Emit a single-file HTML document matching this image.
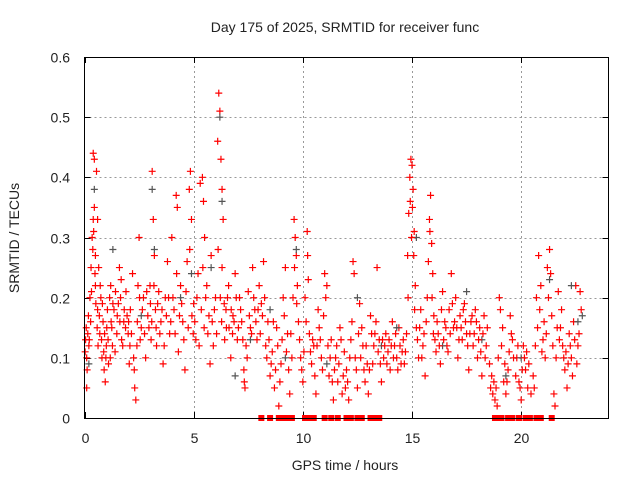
<!DOCTYPE html>
<html><head><meta charset="utf-8"><style>
body{margin:0;background:#fff}
svg text{font-family:"Liberation Sans",sans-serif;font-size:14px;fill:#222}
</style></head><body>
<svg id="chart" width="640" height="480" xmlns="http://www.w3.org/2000/svg">
<rect width="640" height="480" fill="#fff"/>
<text x="345" y="32" text-anchor="middle">Day 175 of 2025, SRMTID for receiver func</text>
<text x="345" y="470" text-anchor="middle">GPS time / hours</text>
<text transform="translate(19,238) rotate(-90)" text-anchor="middle">SRMTID / TECUs</text>
<g id="grid"></g><g id="ticks"></g><g id="marks"></g>
<rect x="84.5" y="57.5" width="524" height="361" fill="none" stroke="#000" stroke-width="1"/>
</svg>
<script>
const xTicks=[0,5,10,15,20];
const yTicks=[0,0.1,0.2,0.3,0.4,0.5,0.6];
const yTickLabels=["0","0.1","0.2","0.3","0.4","0.5","0.6"];
const redT=[0.05,0.1,0.1,0.15,0.2,0.25,0.3,0.35,0.4,0.4,0.45,0.45,0.5,0.5,0.55,0.6,0.6,0.65,0.7,0.75,
0.8,0.85,0.9,0.95,1.0,1.05,1.1,1.2,1.25,1.3,1.4,1.5,1.6,1.65,1.7,1.8,1.9,2.0,
2.05,2.1,2.2,2.3,2.35,2.4,2.45,2.5,2.6,2.7,2.8,2.9,3.0,3.05,
3.1,3.15,3.2,3.25,3.3,3.4,3.5,3.6,3.7,3.8,3.9,4.0,4.1,4.2,4.25,4.3,4.4,4.5,4.6,4.7,
4.8,4.85,4.9,5.0,5.1,5.2,5.3,5.4,5.45,5.5,5.6,5.7,5.8,5.9,6.0,
6.1,6.15,6.2,6.25,6.3,6.35,6.3,6.4,6.5,6.6,6.7,6.8,6.9,7.0,
7.1,7.2,7.3,7.35,7.4,7.5,7.6,7.7,7.8,7.9,8.0,8.1,8.2,
8.3,8.4,8.5,8.6,8.7,8.8,8.9,9.0,9.1,9.2,9.3,9.4,9.5,
9.6,9.65,9.7,9.75,9.8,9.9,10.0,10.1,10.2,10.25,10.3,10.4,10.5,
10.6,10.7,10.8,10.9,11.0,11.1,11.2,11.3,11.4,11.5,11.6,11.7,11.8,11.9,12.0,
12.1,12.2,12.3,12.35,12.4,12.5,12.6,12.7,12.8,12.9,13.0,13.1,13.2,13.3,13.4,13.5,13.6,13.7,
13.8,13.9,14.0,14.1,14.2,14.3,14.4,14.5,14.6,14.7,14.8,14.85,
14.9,14.95,15.0,15.05,15.1,15.15,15.2,15.3,15.4,15.5,15.6,15.7,15.8,15.85,15.9,15.95,16.0,16.1,16.2,16.3,16.4,16.5,
16.6,16.7,16.8,16.9,17.0,17.1,17.2,17.3,17.4,17.5,17.6,17.7,17.8,17.9,18.0,18.1,18.2,18.3,18.4,
18.6,18.7,18.8,18.9,19.0,19.05,19.1,19.2,19.3,19.4,19.5,19.6,19.8,19.9,20.0,20.1,20.2,20.3,
20.6,20.7,20.8,20.9,21.0,21.1,21.2,21.3,21.35,21.4,21.5,21.55,21.6,21.7,21.8,21.9,22.0,22.1,22.2,22.3,22.4,22.5,22.6,22.7];
const redV=[0.13,0.05,0.1,0.14,0.12,0.2,0.25,0.3,0.33,0.44,0.43,0.35,0.27,0.22,0.41,0.33,0.18,0.25,0.14,0.2,
0.1,0.16,0.08,0.06,0.12,0.18,0.09,0.22,0.15,0.19,0.11,0.17,0.25,0.2,0.13,0.16,0.21,0.14,
0.09,0.18,0.24,0.05,0.03,0.12,0.22,0.3,0.15,0.2,0.1,0.17,0.22,0.13,
0.41,0.33,0.27,0.18,0.12,0.21,0.16,0.09,0.2,0.26,0.14,0.3,0.18,0.37,0.35,0.11,0.22,0.16,0.08,0.26,
0.38,0.41,0.33,0.19,0.13,0.24,0.39,0.4,0.36,0.3,0.22,0.17,0.27,0.12,0.2,
0.46,0.54,0.51,0.43,0.38,0.33,0.25,0.19,0.15,0.22,0.1,0.17,0.24,0.13,
0.2,0.16,0.08,0.05,0.12,0.21,0.15,0.25,0.18,0.13,0.22,0.19,0.26,
0.12,0.16,0.07,0.11,0.05,0.15,0.02,0.09,0.2,0.25,0.14,0.04,0.1,
0.33,0.3,0.27,0.22,0.16,0.1,0.06,0.2,0.31,0.23,0.14,0.09,0.12,
0.04,0.18,0.13,0.08,0.24,0.22,0.07,0.13,0.03,0.1,0.06,0.15,0.04,0.11,0.08,
0.03,0.13,0.26,0.24,0.1,0.05,0.19,0.15,0.08,0.12,0.04,0.17,0.09,0.14,0.25,0.13,0.06,0.1,
0.14,0.11,0.08,0.16,0.12,0.1,0.15,0.09,0.13,0.11,0.27,0.34,
0.4,0.43,0.42,0.38,0.31,0.22,0.15,0.1,0.18,0.12,0.07,0.2,0.33,0.37,0.29,0.24,0.17,0.11,0.14,0.09,0.21,0.16,
0.12,0.18,0.24,0.15,0.2,0.1,0.17,0.13,0.19,0.14,0.08,0.16,0.12,0.18,0.1,0.15,0.07,0.17,0.12,
0.05,0.04,0.03,0.02,0.2,0.18,0.12,0.06,0.04,0.08,0.17,0.13,0.1,0.06,0.03,0.12,0.08,0.05,
0.05,0.2,0.27,0.22,0.13,0.1,0.25,0.28,0.24,0.17,0.04,0.02,0.1,0.21,0.15,0.12,0.08,0.05,0.14,0.1,0.16,0.22,0.12,0.21];
const redT2=[0.03,0.08,0.12,0.18,0.22,0.28,0.32,0.38,0.42,0.48,0.52,0.58,0.62,0.68,0.72,0.78,0.82,0.88,0.92,0.98,
1.02,1.08,1.15,1.18,1.22,1.28,1.35,1.42,1.48,1.55,1.62,1.68,1.75,1.82,1.88,1.95,
2.02,2.08,2.15,2.25,2.28,2.42,2.52,2.55,2.65,2.75,2.85,2.95,
3.02,3.08,3.18,3.28,3.35,3.45,3.55,3.65,3.75,3.85,3.95,
4.05,4.15,4.22,4.35,4.45,4.55,4.65,4.75,4.82,4.92,4.98,
5.05,5.15,5.25,5.35,5.42,5.48,5.55,5.65,5.75,5.85,5.95,
6.05,6.12,6.22,6.28,6.42,6.48,6.55,6.62,6.72,6.78,6.85,6.95,
7.05,7.15,7.25,7.32,7.45,7.55,7.65,7.75,7.85,7.95,
8.05,8.15,8.25,8.35,8.45,8.55,8.65,8.75,8.85,8.95,
9.05,9.15,9.25,9.35,9.45,9.55,9.62,9.72,9.85,9.95,
10.05,10.15,10.22,10.35,10.45,10.55,10.65,10.75,10.85,10.95,
11.05,11.15,11.25,11.35,11.45,11.55,11.65,11.75,11.85,11.95,
12.05,12.15,12.25,12.45,12.55,12.65,12.75,12.85,12.95,
13.05,13.15,13.25,13.35,13.45,13.55,13.65,13.75,13.85,13.95,
14.05,14.15,14.25,14.35,14.45,14.55,14.65,14.75,14.82,14.92,14.98,
15.02,15.08,15.12,15.25,15.35,15.45,15.55,15.65,15.75,15.82,15.92,15.98,
16.05,16.15,16.25,16.35,16.45,16.55,16.65,16.75,16.85,16.95,
17.05,17.15,17.25,17.35,17.45,17.55,17.65,17.75,17.85,17.95,
18.05,18.15,18.25,18.35,18.45,18.55,18.65,18.75,18.85,18.95,
19.15,19.25,19.35,19.45,19.55,19.65,19.75,19.85,19.95,
20.05,20.15,20.25,20.35,20.45,20.55,20.65,20.75,20.85,20.95,
21.05,21.15,21.25,21.45,21.65,21.75,21.85,21.95,
22.05,22.15,22.25,22.35,22.45,22.55,22.65,22.75];
const redV2=[0.11,0.15,0.08,0.17,0.13,0.16,0.21,0.28,0.31,0.24,0.19,0.15,0.12,0.17,0.22,0.13,0.19,0.11,0.14,0.1,
0.15,0.13,0.2,0.1,0.16,0.12,0.18,0.21,0.14,0.19,0.16,0.23,0.12,0.18,0.15,0.17,
0.16,0.12,0.14,0.1,0.08,0.16,0.2,0.13,0.18,0.14,0.21,0.15,
0.19,0.16,0.22,0.15,0.19,0.14,0.18,0.12,0.17,0.2,0.16,
0.2,0.14,0.24,0.17,0.19,0.13,0.21,0.15,0.28,0.17,0.14,
0.16,0.2,0.12,0.18,0.25,0.15,0.2,0.14,0.09,0.16,0.18,
0.14,0.28,0.2,0.16,0.13,0.18,0.2,0.15,0.18,0.14,0.16,0.2,
0.15,0.18,0.13,0.06,0.1,0.17,0.14,0.2,0.16,0.18,
0.14,0.17,0.2,0.1,0.13,0.09,0.16,0.08,0.12,0.06,
0.13,0.17,0.11,0.08,0.14,0.2,0.25,0.19,0.13,0.08,
0.11,0.16,0.27,0.11,0.13,0.07,0.12,0.15,0.1,0.17,
0.2,0.12,0.1,0.06,0.08,0.12,0.09,0.13,0.07,0.05,
0.06,0.1,0.16,0.08,0.14,0.1,0.12,0.06,0.09,
0.08,0.14,0.12,0.16,0.11,0.09,0.13,0.12,0.09,0.13,
0.12,0.1,0.14,0.08,0.12,0.11,0.09,0.14,0.2,0.36,0.3,
0.35,0.27,0.18,0.13,0.15,0.1,0.14,0.16,0.26,0.31,0.2,0.14,
0.13,0.16,0.12,0.18,0.13,0.15,0.11,0.14,0.19,0.16,
0.15,0.13,0.15,0.18,0.16,0.12,0.14,0.17,0.14,0.16,
0.13,0.11,0.14,0.1,0.15,0.09,0.07,0.06,0.05,0.1,
0.15,0.09,0.06,0.11,0.14,0.1,0.07,0.12,0.05,
0.08,0.1,0.11,0.09,0.04,0.07,0.12,0.15,0.18,0.11,
0.16,0.14,0.2,0.12,0.15,0.13,0.18,0.1,
0.11,0.09,0.12,0.07,0.13,0.09,0.14,0.18];
const zeroT=[8.1,8.5,8.9,9.1,9.3,9.5,10.1,10.3,10.5,11.0,11.3,11.6,12.0,12.2,12.5,12.7,13.1,13.3,13.5,18.8,19.0,19.1,19.4,19.6,19.9,20.2,20.4,20.7,20.8,20.9,21.4];
const grayT=[0.2,0.45,1.3,3.1,3.2,4.9,5.8,6.2,6.3,6.9,8.5,9.7,12.5,15.2,17.5,20.0,21.3,22.3,22.8,9.2,13.6,16.4,2.6,4.4,7.6,11.1,14.3,18.2,19.3,22.6];
const grayV=[0.09,0.38,0.28,0.38,0.28,0.24,0.25,0.5,0.36,0.07,0.18,0.28,0.2,0.3,0.21,0.1,0.23,0.22,0.17,0.1,0.12,0.12,0.17,0.2,0.13,0.09,0.15,0.13,0.07,0.16];

const NS="http://www.w3.org/2000/svg";
const X0=84.5,X1=608.5,Y0=418,Y1=57;
const xs=t=>X0+(t-0)/(24-0)*(X1-X0);
const ys=v=>Y0-(v-0)/(0.6-0)*(Y0-Y1);
function mk(tag,at,parent){const e=document.createElementNS(NS,tag);for(const k in at)e.setAttribute(k,at[k]);document.getElementById(parent).appendChild(e);return e;}
xTicks.forEach(t=>{const x=Math.round(xs(t))+0.5;
 if(t>0){const g=mk('line',{x1:x,x2:x,y1:Y0,y2:Y1,stroke:'#999','stroke-dasharray':'2,3'},'grid');
 
 }
 const tk=mk('path',{d:`M${x} ${Y0}v-6M${x} ${Y1}v6`,stroke:'#000'},'ticks');
 
 
 const l=mk('text',{x:x,y:443,'text-anchor':'middle'},'ticks');l.textContent=t;
 
 });
yTicks.forEach((v,i)=>{const y=Math.round(ys(v))+0.5;
 if(v>0&&v<0.6){const g=mk('line',{x1:X0,x2:X1,y1:y,y2:y,stroke:'#999','stroke-dasharray':'2,3'},'grid');
 
 }
 const tk=mk('path',{d:`M${X0} ${y}h6M${X1} ${y}h-6`,stroke:'#000'},'ticks');
 
 
 const l=mk('text',{x:70,y:y+5,'text-anchor':'end'},'ticks');l.textContent=yTickLabels[i];
 
 });
function plus(t,v,col){const x=xs(t),y=ys(v);
 return mk('path',{d:`M${x-3.5} ${y}h7M${x} ${y-3.5}v7`,stroke:col,'stroke-width':1.2},'marks');}
redT.forEach((t,i)=>{const p=plus(t,redV[i],'#f00');
 
 });
grayT.forEach((t,i)=>{const p=plus(t,grayV[i],'#555');
 
 });
redT2.forEach((t,i)=>{const p=plus(t,redV2[i],'#f00');
 
 });
zeroT.forEach(t=>{const r=mk('rect',{x:xs(t)-3,y:ys(0)-3,width:6,height:6,fill:'#f00'},'marks');
 
 });
</script>
</body></html>
